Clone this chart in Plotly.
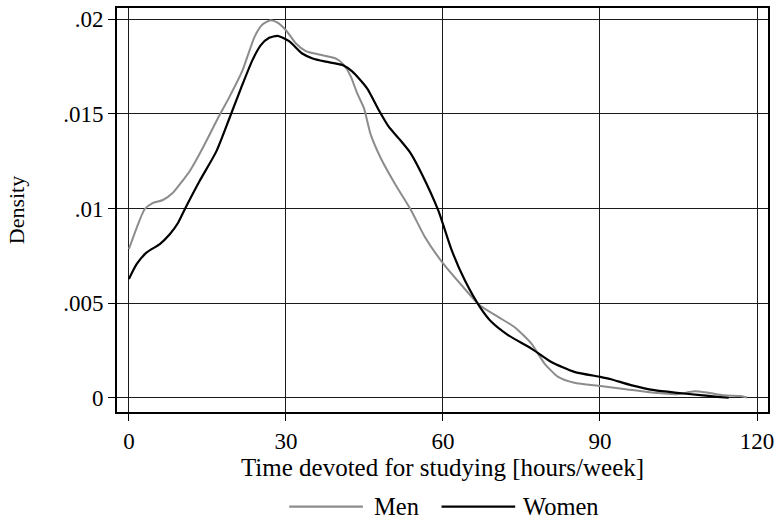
import plotly.graph_objects as go

# ---- data ----
men_x = [0, 1.5, 3.0, 4.6, 6.5, 8.4, 10.2, 11.6, 14.1, 17.0, 19.2, 21.7, 24.0, 25.5,
         27.1, 28.4, 30.0, 31.9, 33.8, 36.3, 39.5, 41.1, 42.4, 43.6, 44.9, 46.2, 48.1,
         50.9, 53.8, 56.6, 60.1, 63.6, 67.1, 70.6, 73.7, 76.9, 79.4, 82.0, 85.1, 90.1,
         95.3, 100.4, 104.8, 108.0, 110.5, 113.7, 116.8, 118.1]
men_y = [0.00786, 0.00899, 0.00996, 0.0103, 0.01045, 0.01083, 0.01145, 0.01197, 0.0132,
         0.01477, 0.0159, 0.0173, 0.01907, 0.01972, 0.01995, 0.01982, 0.01942, 0.01872,
         0.01832, 0.01814, 0.01793, 0.01758, 0.01697, 0.01609, 0.0153, 0.0139, 0.01267,
         0.01127, 0.00996, 0.00847, 0.00707, 0.00593, 0.00487, 0.00426, 0.00373, 0.00286,
         0.00181, 0.0011, 0.00079, 0.00062, 0.00044, 0.00026, 0.00019, 0.00035, 0.00028,
         0.00013, 0.00009, 0.00001]

women_x = [0, 1.5, 3.4, 5.9, 7.8, 9.4, 10.6, 13.5, 16.7, 19.2, 21.4, 23.6, 25.2, 26.8,
           28.4, 30.6, 33.1, 35.1, 37.6, 40.8, 42.7, 45.5, 47.7, 49.6, 51.5, 53.8, 56.0,
           59.1, 61.7, 64.2, 67.1, 69.3, 72.5, 76.9, 80.7, 85.1, 90.1, 92.1, 95.9,
           100.4, 104.8, 109.2, 112.4, 114.6]
women_y = [0.00628, 0.00707, 0.00768, 0.00812, 0.00864, 0.00925, 0.00992, 0.01145, 0.01302,
           0.01477, 0.01635, 0.01784, 0.01863, 0.01902, 0.01912, 0.01884, 0.01819, 0.01793,
           0.01776, 0.01758, 0.01723, 0.01635, 0.01522, 0.01434, 0.01372, 0.01293, 0.0118,
           0.0099, 0.00777, 0.00619, 0.00478, 0.004, 0.0033, 0.0026, 0.00189,
           0.00137, 0.0011, 0.00098, 0.00067, 0.0004, 0.00026, 0.00014, 0.00005, 0.0]

x_ticks = [0, 30, 60, 90, 120]
y_ticks = [0, 0.005, 0.01, 0.015, 0.02]
y_tick_labels = ["0", ".005", ".01", ".015", ".02"]
series_names = ["Men", "Women"]
x_title = "Time devoted for studying [hours/week]"
y_title = "Density"

# ---- styles ----
FONT = "Liberation Serif"
MEN_COLOR = "#8c8c8c"
WOMEN_COLOR = "#000000"

fig = go.Figure()
fig.add_trace(go.Scatter(x=men_x, y=men_y, mode="lines", name=series_names[0],
                         line=dict(color=MEN_COLOR, width=2, shape="spline", smoothing=0.6),
                         showlegend=False))
fig.add_trace(go.Scatter(x=women_x, y=women_y, mode="lines", name=series_names[1],
                         line=dict(color=WOMEN_COLOR, width=2.2, shape="spline", smoothing=0.6),
                         showlegend=False))

L, R, T, B = 117, 9, 6, 112
W, H = 780, 524
pw, ph = W - L - R, H - T - B

def px2paper_x(px):
    return (px - L) / pw

def py2paper_y(py):
    return (H - B - py) / ph

# custom legend (line samples + labels)
leg_y = py2paper_y(507)
for name, color, x0, x1, tx in [(series_names[0], MEN_COLOR, 290, 364, 373),
                                (series_names[1], WOMEN_COLOR, 443, 517, 523)]:
    fig.add_shape(type="line", xref="paper", yref="paper",
                  x0=px2paper_x(x0), x1=px2paper_x(x1), y0=leg_y, y1=leg_y,
                  line=dict(color=color, width=2.2))
    fig.add_annotation(xref="paper", yref="paper", x=px2paper_x(tx), y=leg_y,
                       text=name, showarrow=False, xanchor="left", yanchor="middle",
                       font=dict(family=FONT, size=24.5, color="black"))

fig.update_layout(
    width=W, height=H,
    margin=dict(l=L, r=R, t=T, b=B, pad=0),
    paper_bgcolor="white", plot_bgcolor="white",
    font=dict(family=FONT, color="black"),
)
fig.update_xaxes(
    range=[-2.28, 122.1], tickvals=x_ticks, ticktext=[str(v) for v in x_ticks],
    showgrid=True, gridcolor="#1a1a1a", gridwidth=1, zeroline=False,
    showline=True, linecolor="black", linewidth=2, mirror=True,
    ticks="outside", ticklen=7, tickwidth=1, tickcolor="black",
    tickfont=dict(family=FONT, size=23, color="black"),
    title=dict(text=x_title, font=dict(family=FONT, size=25, color="black"), standoff=0),
)
fig.update_yaxes(
    range=[-0.000752, 0.020594], tickvals=y_ticks, ticktext=y_tick_labels,
    showgrid=True, gridcolor="#1a1a1a", gridwidth=1, zeroline=False,
    showline=True, linecolor="black", linewidth=2, mirror=True,
    ticks="outside", ticklen=7, tickwidth=1, tickcolor="black",
    tickfont=dict(family=FONT, size=23, color="black"),
    title=dict(text=y_title, font=dict(family=FONT, size=22, color="black"), standoff=32),
)

fig.write_html("out.html")
